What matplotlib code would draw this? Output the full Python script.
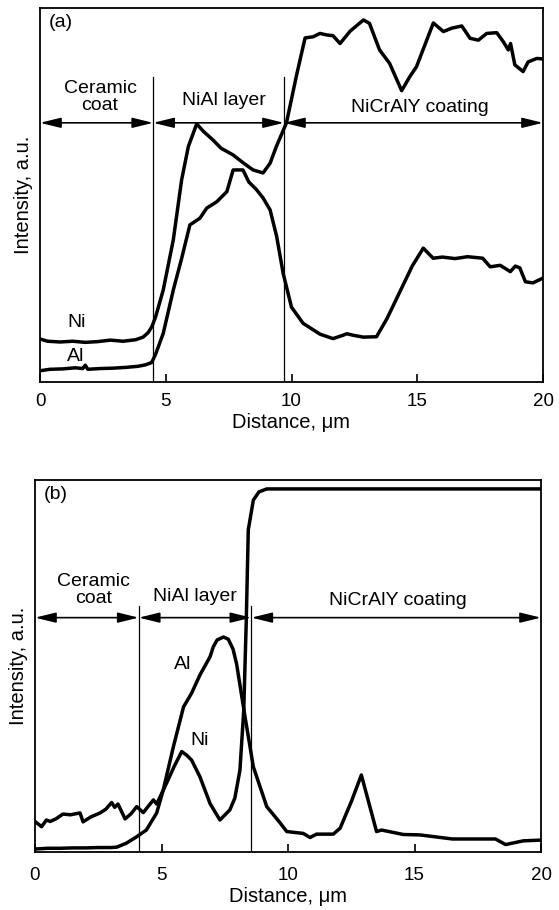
import matplotlib
matplotlib.use("Agg")
import matplotlib.pyplot as plt

plt.rcParams['font.family'] = ['Liberation Sans', 'DejaVu Sans']

# ---------------- Panel (a) data ----------------
ni_a_x = [0, 0.3, 0.8, 1.3, 1.8, 2.3, 2.8, 3.3, 3.8, 4.1, 4.3, 4.45, 4.6, 4.9, 5.3, 5.63,
          5.9, 6.23, 6.5, 6.88, 7.2, 7.68, 8.1, 8.47, 8.87, 9.15, 9.4, 9.8, 10.2, 10.54,
          10.86, 11.13, 11.4, 11.65, 11.93, 12.33, 12.86, 13.1, 13.5, 13.9, 14.38, 14.7,
          14.97, 15.64, 16.04, 16.37, 16.77, 17.1, 17.43, 17.76, 18.16, 18.42, 18.62,
          18.71, 18.88, 19.21, 19.41, 19.75, 20]
ni_a_y = [11.5, 10.9, 10.7, 10.9, 10.6, 10.8, 11.2, 10.9, 11.3, 12.0, 13.2, 14.8, 17.5,
          24.6, 38, 54, 63, 69, 67, 64.7, 62.5, 60.7, 58.5, 56.7, 55.9, 58.5, 63, 69.3,
          82, 92, 92.3, 93.2, 92.8, 92.6, 90.5, 93.8, 96.8, 95.9, 88.8, 85.2, 77.9, 81.6,
          84.3, 96, 93.7, 94.6, 95.2, 91.9, 91.4, 93.2, 93.4, 91, 88.8, 90.5, 84.8, 83,
          85.6, 86.5, 86.4]

al_a_x = [0, 0.4, 0.9, 1.4, 1.7, 1.8, 1.9, 2.4, 2.9, 3.4, 3.9, 4.2, 4.44, 4.6, 4.9, 5.3,
          5.63, 5.96, 6.36, 6.63, 7.03, 7.43, 7.68, 8.07, 8.3, 8.6, 8.87, 9.15, 9.41,
          9.67, 10.0, 10.46, 11.13, 11.65, 12.05, 12.2, 12.45, 12.85, 13.38, 13.8, 14.3,
          14.8, 15.24, 15.63, 16.0, 16.5, 17.0, 17.6, 17.9, 18.3, 18.7, 18.9, 19.08,
          19.3, 19.6, 20]
al_a_y = [3.0, 3.4, 3.5, 3.8, 3.6, 4.5, 3.4, 3.6, 3.7, 3.9, 4.2, 4.6, 5.2, 7.5, 13,
          24.6, 33, 42, 43.8, 46.5, 48.2, 50.9, 56.7, 56.7, 53.5, 51.5, 49.2, 46, 38.9,
          29, 20, 15.7, 12.8, 11.6, 12.5, 12.9, 12.5, 12, 12.1, 17, 24, 31, 35.8, 33.1,
          33.4, 33.0, 33.5, 33.1, 30.8, 31.2, 29.5, 31, 30.5, 26.8, 26.5, 27.8]

bounds_a = [0, 4.5, 9.7, 20]

# ---------------- Panel (b) data ----------------
ni_b_x = [0, 0.26, 0.45, 0.6, 0.85, 1.1, 1.4, 1.78, 1.9, 2.2, 2.57, 2.8, 3.03, 3.15,
          3.28, 3.56, 3.8, 4.02, 4.28, 4.5, 4.68, 4.81, 5.2, 5.5, 5.8, 6.0, 6.19, 6.52,
          6.92, 7.31, 7.7, 7.9, 8.1, 8.25, 8.35, 8.43, 8.63, 8.85, 9.16, 10, 12, 14, 16,
          18, 20]
ni_b_y = [8.2, 6.8, 8.6, 8.2, 9.0, 10.2, 10.0, 10.5, 8.1, 9.4, 10.5, 11.5, 13.3, 12.0,
          12.9, 8.9, 10.3, 12.2, 10.6, 12.5, 14, 12.9, 18.5, 23, 27, 26, 24.7, 20.2, 13,
          8.6, 11.3, 14.5, 22, 38, 62, 86.6, 94.6, 96.8, 97.6, 97.6, 97.6, 97.6, 97.6,
          97.6, 97.6]

al_b_x = [0, 0.5, 1.0, 1.5, 2.0, 2.5, 3.0, 3.23, 3.62, 4.02, 4.4, 4.81, 5.07, 5.47, 5.87,
          6.19, 6.52, 6.92, 7.05, 7.2, 7.45, 7.64, 7.83, 7.97, 8.3, 8.63, 9.16, 9.68, 9.95,
          10.6, 10.87, 11.13, 11.79, 12.06, 12.5, 12.9, 13.5, 13.7, 14.56, 15.2, 16.5,
          18.2, 18.6, 19.3, 20]
al_b_y = [0.8, 1.0, 1.0, 1.1, 1.1, 1.2, 1.2, 1.3, 2.4, 4.1, 5.9, 10.5, 16.7, 28.3, 39,
          42.7, 47.6, 52.5, 55.2, 57.0, 57.8, 57.2, 54.5, 50.5, 36.4, 22.9, 12.2, 7.9,
          5.5, 5.0, 3.9, 4.8, 4.8, 6.4, 13.5, 20.7, 5.5, 5.9, 4.7, 4.6, 3.5, 3.5, 2.0,
          3.0, 3.2]

bounds_b = [0, 4.1, 8.55, 20]

regions = ["Ceramic\ncoat", "NiAl layer", "NiCrAlY coating"]
xticks = [0, 5, 10, 15, 20]
xlabel = "Distance, \u03bcm"
ylabel = "Intensity, a.u."

W, H = 559, 910
fig = plt.figure(figsize=(W / 100, H / 100), dpi=100)

def px_axes(left, top, right, bottom):
    return fig.add_axes([left / W, 1 - bottom / H, (right - left) / W, (bottom - top) / H])

ax_a = px_axes(40, 8, 543, 382)
ax_b = px_axes(35, 480, 541, 852)

FS_TICK = 13.5
FS_TEXT = 14
FS_LABEL = 14.5
curve_lw = 2.5


def style(ax, label, pad):
    ax.set_xlim(0, 20)
    ax.set_ylim(0, 100)
    ax.set_xticks(xticks)
    ax.set_xticklabels([str(t) for t in xticks], fontsize=FS_TICK)
    ax.set_yticks([])
    ax.tick_params(axis='x', direction='in', length=6, width=1.2, pad=pad)
    for s in ax.spines.values():
        s.set_linewidth(1.3)
    ax.set_xlabel(xlabel, fontsize=FS_LABEL, labelpad=2)
    ax.set_ylabel(ylabel, fontsize=FS_LABEL, labelpad=5)
    ax.text(0.35, 96.0, label, fontsize=FS_TEXT, ha='left', va='center')


def regions_draw(ax, bounds, arrow_y, vtop, text_pos):
    for b in bounds[1:-1]:
        ax.plot([b, b], [0, vtop], color='black', lw=0.9)
    for i in range(3):
        ax.annotate('', xy=(bounds[i + 1], arrow_y), xytext=(bounds[i], arrow_y),
                    arrowprops=dict(arrowstyle='<|-|>,head_length=0.9,head_width=0.22',
                                    color='black', lw=1.2, mutation_scale=14,
                                    shrinkA=0, shrinkB=0))
        tx, ty = text_pos[i]
        ax.text(tx, ty, regions[i], fontsize=FS_TEXT, ha='center', va='center',
                linespacing=0.95)


# Panel (a)
style(ax_a, "(a)", 8)
ax_a.plot(ni_a_x, ni_a_y, color='black', lw=curve_lw, solid_joinstyle='round')
ax_a.plot(al_a_x, al_a_y, color='black', lw=curve_lw, solid_joinstyle='round')
regions_draw(ax_a, bounds_a, 69.3, 81.5,
             [(2.39, 76.2), (7.3, 75.4), (15.1, 73.5)])
ax_a.text(1.45, 15.8, "Ni", fontsize=FS_TEXT, ha='center', va='center')
ax_a.text(1.4, 6.7, "Al", fontsize=FS_TEXT, ha='center', va='center')

# Panel (b)
style(ax_b, "(b)", 11)
ax_b.plot(ni_b_x, ni_b_y, color='black', lw=curve_lw, solid_joinstyle='round')
ax_b.plot(al_b_x, al_b_y, color='black', lw=curve_lw, solid_joinstyle='round')
regions_draw(ax_b, bounds_b, 63.0, 66.0,
             [(2.3, 70.4), (6.32, 68.6), (14.35, 67.7)])
ax_b.text(5.85, 50.3, "Al", fontsize=FS_TEXT, ha='center', va='center')
ax_b.text(6.5, 30.1, "Ni", fontsize=FS_TEXT, ha='center', va='center')

fig.savefig("out.png", dpi=100)
